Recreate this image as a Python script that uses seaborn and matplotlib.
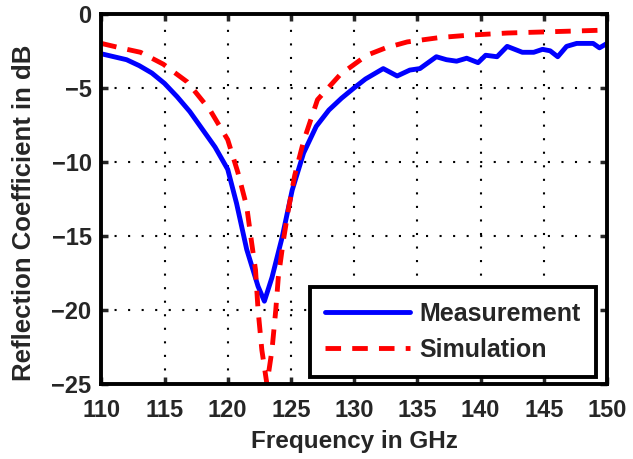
import numpy as np
import pandas as pd
import matplotlib
matplotlib.use('Agg')
import matplotlib.pyplot as plt
import seaborn as sns

# Valores
freq_meas = [110, 111, 112, 113, 114, 115, 116, 117, 118, 119, 120, 120.7, 121.5, 122.4, 122.9,
             123.5, 124.3, 125.1, 126, 127, 128, 129, 130, 130.9, 132.3, 133.4, 134.4, 135.2,
             136.5, 137.3, 138.1, 138.9, 139.8, 140.4, 141.3, 142.1, 143.3, 144.2, 144.9,
             145.5, 146.1, 146.8, 147.6, 148.9, 149.4, 150]
s11_meas = [-2.7, -2.9, -3.1, -3.5, -4.0, -4.7, -5.6, -6.6, -7.8, -9.0, -10.5, -12.8, -15.9, -18.4, -19.4,
            -17.8, -15.1, -11.9, -9.4, -7.6, -6.5, -5.7, -5.0, -4.4, -3.7, -4.2, -3.8, -3.7,
            -2.9, -3.1, -3.2, -3.0, -3.3, -2.8, -2.9, -2.2, -2.6, -2.6, -2.4,
            -2.5, -2.9, -2.2, -2.0, -2.0, -2.3, -2.0]

freq_sim = [110, 111.5, 113.1, 114.9, 116.8, 118.6, 120, 120.8, 121.5, 121.9, 122.2, 122.4, 122.7,
            123.1, 123.5, 123.8, 124, 124.4, 124.8, 125.3, 126, 127.1, 128.9, 131, 132.5, 134.2,
            136.8, 139, 142.1, 146, 150]
s11_sim = [-2.0, -2.3, -2.6, -3.4, -4.6, -6.5, -8.5, -10.7, -13.0, -15.5, -17.3, -20.0, -22.7,
           -25.0, -22.7, -20.0, -17.8, -15.3, -13.2, -10.9, -8.6, -5.8, -4.1, -2.8, -2.3, -1.9,
           -1.6, -1.45, -1.3, -1.2, -1.1]

xticks = [110, 115, 120, 125, 130, 135, 140, 145, 150]
yticks = [-25, -20, -15, -10, -5, 0]

df = pd.concat([
    pd.DataFrame({'Frecuencia': freq_meas, 'S11': s11_meas, 'Serie': 'Measurement'}),
    pd.DataFrame({'Frecuencia': freq_sim, 'S11': s11_sim, 'Serie': 'Simulation'}),
])

sns.set_style('ticks')
plt.rcParams['font.family'] = ['Liberation Sans', 'DejaVu Sans']
plt.rcParams['font.weight'] = 'bold'

fig = plt.figure(figsize=(6.33, 4.59), dpi=100)
ax = fig.add_axes([0.16, 0.163, 0.799, 0.807])

sns.lineplot(data=df, x='Frecuencia', y='S11', hue='Serie', style='Serie',
             palette={'Measurement': '#0000ff', 'Simulation': '#ff0000'},
             dashes={'Measurement': '', 'Simulation': (3.2, 2.3)},
             linewidth=3.5, sort=False, ax=ax)

ax.set_xlim(110, 150)
ax.set_ylim(-25, 0)
ax.set_xticks(xticks)
ax.set_yticks(yticks)
ax.set_yticklabels([str(v).replace('-', '\u2212') for v in yticks])
ax.grid(True, color='black', linestyle=(0, (1, 5.5)), linewidth=1.5)
ax.tick_params(direction='in', length=5, width=2.5, labelsize=17, top=True, right=True)
ax.tick_params(axis='x', pad=11)
ax.tick_params(axis='y', pad=7)
for s in ax.spines.values():
    s.set_linewidth(2.8)
    s.set_color('black')

ax.set_xlabel('Frequency in GHz', fontsize=17.5, fontweight='bold')
ax.set_ylabel('Reflection Coefficient in dB', fontsize=18.5, fontweight='bold')
ax.xaxis.set_label_coords(0.5, -0.125)
ax.yaxis.set_label_coords(-0.13, 0.462)

leg = ax.legend(loc='lower right', bbox_to_anchor=(0.978, 0.019), borderaxespad=0,
                fontsize=18, frameon=True, fancybox=False, edgecolor='black',
                handlelength=3.4, handletextpad=0.4, borderpad=0.6, labelspacing=0.5)
leg.get_frame().set_linewidth(2.8)
leg.get_frame().set_alpha(1)
for t in leg.get_texts():
    t.set_fontweight('bold')

fig.savefig('out.png', dpi=100)
plt.close(fig)
